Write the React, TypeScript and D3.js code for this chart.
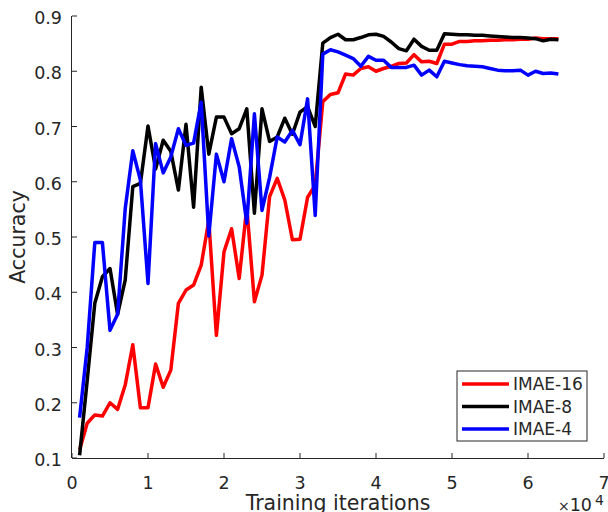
import React from 'react';
import * as d3 from 'd3';

// iterations (x 10^4 on the axis)
const iterations = [
  1000, 2000, 3000, 4000, 5000, 6000, 7000, 8000, 9000, 10000,
  11000, 12000, 13000, 14000, 15000, 16000, 17000, 18000, 19000, 20000,
  21000, 22000, 23000, 24000, 25000, 26000, 27000, 28000, 29000, 30000,
  31000, 32000, 33000, 34000, 35000, 36000, 37000, 38000, 39000, 40000,
  41000, 42000, 43000, 44000, 45000, 46000, 47000, 48000, 49000, 50000,
  51000, 52000, 53000, 54000, 55000, 56000, 57000, 58000, 59000, 60000,
  61000, 62000, 63000, 64000,
];

const imae16 = [
  0.115, 0.163, 0.178, 0.176, 0.2, 0.188, 0.232, 0.305, 0.191, 0.191,
  0.27, 0.228, 0.259, 0.38, 0.404, 0.413, 0.449, 0.53, 0.322, 0.473,
  0.515, 0.425, 0.554, 0.383, 0.431, 0.573, 0.606, 0.567, 0.495, 0.496,
  0.572, 0.594, 0.745, 0.758, 0.761, 0.795, 0.793, 0.805, 0.808, 0.8,
  0.805, 0.809, 0.814, 0.815, 0.83, 0.817, 0.818, 0.814, 0.849, 0.849,
  0.854, 0.854, 0.855, 0.855, 0.856, 0.856, 0.857, 0.857, 0.858, 0.858,
  0.86, 0.859, 0.859, 0.859,
];

const imae8 = [
  0.105, 0.24, 0.38, 0.428, 0.443, 0.36, 0.422, 0.591, 0.597, 0.701,
  0.623, 0.675, 0.655, 0.585, 0.704, 0.554, 0.771, 0.65, 0.717, 0.717,
  0.687, 0.696, 0.732, 0.543, 0.732, 0.673, 0.681, 0.715, 0.686, 0.726,
  0.736, 0.7, 0.851, 0.861, 0.867, 0.857, 0.857, 0.861, 0.866, 0.867,
  0.863, 0.853, 0.841, 0.837, 0.858, 0.845, 0.838, 0.838, 0.868, 0.867,
  0.866, 0.866, 0.865, 0.865, 0.864, 0.863, 0.862, 0.861, 0.861, 0.86,
  0.859, 0.855, 0.858, 0.857,
];

const imae4 = [
  0.173, 0.3, 0.49, 0.49, 0.331, 0.36, 0.551, 0.656, 0.603, 0.416,
  0.669, 0.616, 0.645, 0.696, 0.666, 0.67, 0.744, 0.502, 0.65, 0.6,
  0.678, 0.627, 0.525, 0.723, 0.548, 0.608, 0.681, 0.672, 0.693, 0.667,
  0.75, 0.539, 0.831, 0.839, 0.835, 0.829, 0.823, 0.809, 0.827, 0.82,
  0.82, 0.807, 0.807, 0.807, 0.811, 0.793, 0.802, 0.79, 0.818, 0.815,
  0.812, 0.81, 0.809, 0.808, 0.805, 0.802, 0.801, 0.801, 0.802, 0.793,
  0.8, 0.796, 0.797, 0.795,
];

const seriesNames = ['IMAE-16', 'IMAE-8', 'IMAE-4'];
const seriesValues = [imae16, imae8, imae4];
const seriesColors = ['#ff0000', '#000000', '#0000ff'];

const xTicks = [0, 1, 2, 3, 4, 5, 6, 7];
const yTicks = [0.1, 0.2, 0.3, 0.4, 0.5, 0.6, 0.7, 0.8, 0.9];

const width = 608;
const height = 512;
const margin = { left: 72, right: 4, top: 16, bottom: 54 };
const font = 'DejaVu Sans, sans-serif';
const axisColor = '#262626';

const x = d3.scaleLinear().domain([0, 70000]).range([margin.left, width - margin.right]);
const y = d3.scaleLinear().domain([0.1, 0.9]).range([height - margin.bottom, margin.top]);

const line = d3.line<number>()
  .x((d, i) => x(iterations[i]))
  .y(d => y(d));

const App = () => {
  const x0 = margin.left;
  const x1 = width - margin.right;
  const y0 = height - margin.bottom;
  const y1 = margin.top;

  const legX = 457;
  const legY = 371;
  const legW = 130;
  const legH = 70;

  return (
    <svg width={width} height={height} style={{ position: 'absolute', left: 0, top: 0 }}
      fontFamily={font}>
      <rect width={width} height={height} fill="#fff" />

      {/* lines */}
      {seriesValues.map((vals, i) => (
        <path key={seriesNames[i]} d={line(vals) || ''} fill="none"
          stroke={seriesColors[i]} strokeWidth={3.5} strokeLinejoin="round" />
      ))}

      {/* axes */}
      <g stroke={axisColor} strokeWidth={1} fill="none">
        <line x1={x0} y1={y0 + 0.5} x2={x1} y2={y0 + 0.5} />
        <line x1={x0 - 0.5} y1={y1} x2={x0 - 0.5} y2={y0} />
        {xTicks.map(t => (
          <line key={'xt' + t} x1={x(t * 10000)} x2={x(t * 10000)} y1={y0} y2={y0 - 5} />
        ))}
        {yTicks.map(t => (
          <line key={'yt' + t} x1={x0} x2={x0 + 5} y1={y(t)} y2={y(t)} />
        ))}
      </g>
      <g fill={axisColor} fontSize={17.5}>
        {xTicks.map(t => (
          <text key={'xl' + t} x={x(t * 10000)} y={489} textAnchor="middle">{t}</text>
        ))}
        {yTicks.map(t => (
          <text key={'yl' + t} x={x0 - 10} y={y(t) + 8} textAnchor="end">{d3.format('.1f')(t)}</text>
        ))}
      </g>

      {/* exponent */}
      <text x={558} y={511} fill={axisColor} fontSize={17.5}>
        <tspan fontSize={14}>×</tspan>10
      </text>
      <text x={595} y={505} fill={axisColor} fontSize={14}>4</text>

      {/* axis labels */}
      <text x={(x0 + x1) / 2} y={510} textAnchor="middle" fill={axisColor} fontSize={20.5}>
        Training iterations
      </text>
      <text transform={`translate(25,${(y0 + y1) / 2}) rotate(-90)`} textAnchor="middle"
        fill={axisColor} fontSize={20.5}>
        Accuracy
      </text>

      {/* legend */}
      <rect x={legX} y={legY} width={legW} height={legH} fill="#fff" stroke={axisColor} strokeWidth={1} />
      {seriesNames.map((name, i) => {
        const ly = legY + 13 + i * 22.5;
        return (
          <g key={'lg' + name}>
            <line x1={legX + 5} x2={legX + 52} y1={ly} y2={ly} stroke={seriesColors[i]} strokeWidth={3.5} />
            <text x={legX + 56} y={ly + 6} fontSize={17} fill={axisColor}>{name}</text>
          </g>
        );
      })}
    </svg>
  );
};

export default App;
